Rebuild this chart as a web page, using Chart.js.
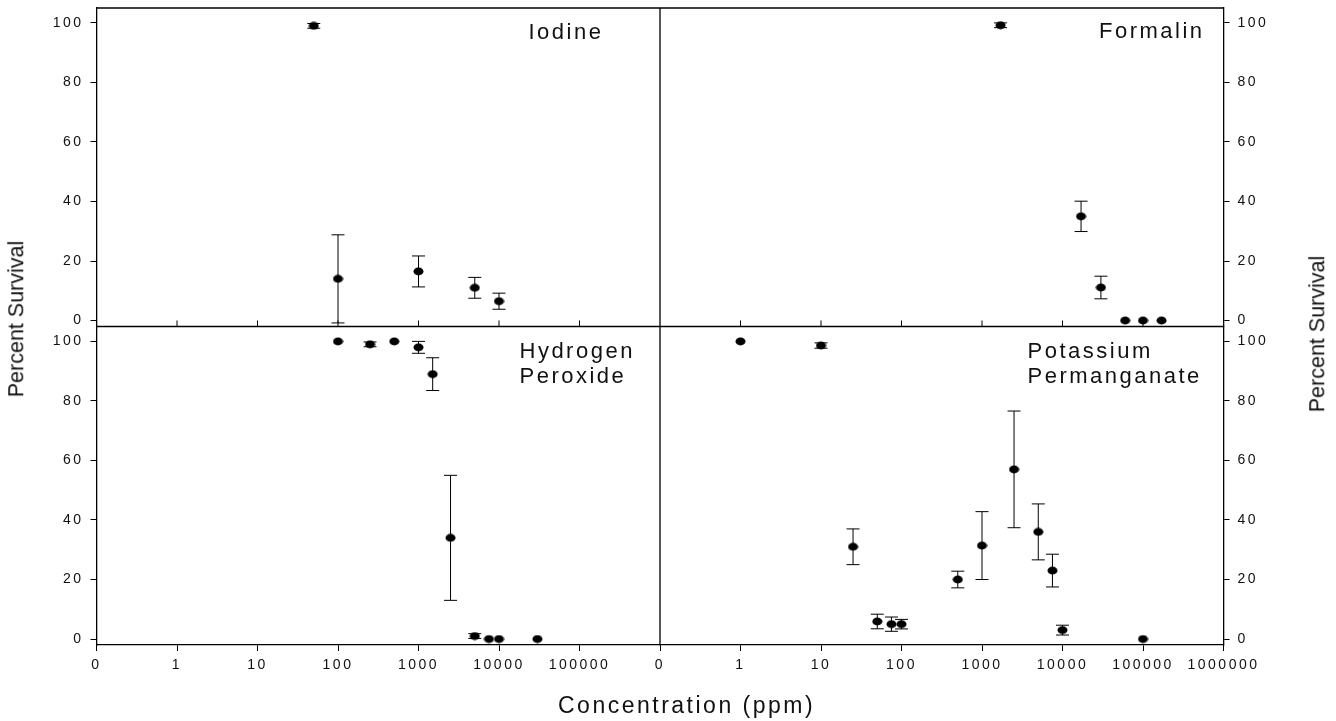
<!DOCTYPE html>
<html><head><meta charset="utf-8">
<script src="https://cdn.jsdelivr.net/npm/chart.js@4.4.1/dist/chart.umd.min.js"></script>
<style>
html,body{margin:0;padding:0;background:#fff;overflow:hidden}
#wrap{position:relative;width:1336px;height:721px;background:#fff}
#c{position:absolute;left:0;top:0}
.t{position:absolute;font-family:"Liberation Sans",Arial,sans-serif;color:#111;white-space:pre;line-height:1;letter-spacing:2.5px}
.r{position:absolute;font-family:"Liberation Sans",Arial,sans-serif;color:#111;white-space:pre;font-size:21.5px;line-height:21.5px;transform:translate(-50%,-50%) rotate(-90deg)}
</style></head><body>
<div id="wrap">
<canvas id="c" width="1336" height="721"></canvas>
<div class="t" style="font-size:22px;left:528.5px;top:20.7px">Iodine</div>
<div class="t" style="font-size:22px;left:1099px;top:20.4px">Formalin</div>
<div class="t" style="font-size:22px;left:519.5px;top:340.4px">Hydrogen</div>
<div class="t" style="font-size:22px;left:519.5px;top:364.7px">Peroxide</div>
<div class="t" style="font-size:22px;left:1027.5px;top:340.1px">Potassium</div>
<div class="t" style="font-size:22px;left:1027.5px;top:364.7px">Permanganate</div>
<div class="t" style="font-size:23px;left:558px;top:694px">Concentration (ppm)</div>
<div class="r" style="left:16.5px;top:319px">Percent Survival</div>
<div class="r" style="left:1318px;top:333.5px">Percent Survival</div>
</div>
<script>
// ---- data ----
const xTickValues = [0.1, 1, 10, 100, 1000, 10000, 100000, 1000000];
const xTickLabelsLeft = ['0', '1', '10', '100', '1000', '10000', '100000', ''];
const xTickLabelsRight = ['0', '1', '10', '100', '1000', '10000', '100000', '1000000'];
const yTickValues = [0, 20, 40, 60, 80, 100];
const yTickLabels = ['0', '20', '40', '60', '80', '100'];

const iodineConc = [50, 100, 1000, 5000, 10000];
const iodineSurv = [99, 14, 16.5, 11, 6.5];
const iodineErr = [0.8, 14.8, 5.2, 3.5, 2.7];

const formalinConc = [1700, 17000, 30000, 60000, 100000, 170000];
const formalinSurv = [99.2, 35, 11.1, 0, 0, 0];
const formalinErr = [0.8, 5.1, 3.8, 0, 0, 0];

const peroxideConc = [100, 250, 500, 1000, 1500, 2500, 5000, 7500, 10000, 30000];
const peroxideSurv = [100, 99, 100, 98, 89, 34, 1, 0, 0, 0];
const peroxideErr = [0, 0.8, 0, 2, 5.5, 21, 0.8, 0, 0, 0];

const permanganateConc = [1, 10, 25, 50, 75, 100, 500, 1000, 2500, 5000, 7500, 10000, 100000];
const permanganateSurv = [100, 98.6, 31, 5.9, 5, 5, 20, 31.4, 57, 36, 23, 3, 0];
const permanganateErr = [0, 0.9, 6, 2.45, 2.4, 1.6, 2.8, 11.4, 19.6, 9.4, 5.5, 1.65, 0];

// ---- marker: slightly wide filled dot ----
const dot = document.createElement('canvas');
dot.width = 11; dot.height = 9;
(function(){ const g = dot.getContext('2d'); g.fillStyle = '#000'; g.beginPath(); g.ellipse(5.5, 4.5, 5, 3.9, 0, 0, Math.PI * 2); g.fill(); })();

const FONT = {family: '"Liberation Sans", Arial, sans-serif', size: 14};

function toPoints(xs, ys) { return xs.map((v, i) => ({x: v, y: ys[i]})); }

function xScale(labels) {
  return {
    type: 'logarithmic', position: 'bottom', stack: 'xs', stackWeight: 1,
    min: 0.1, max: 1000000,
    afterBuildTicks: s => { s.ticks = xTickValues.map(v => ({value: v})); },
    afterFit: s => { s.height = 76; s.paddingLeft = 0; s.paddingRight = 0; s.paddingTop = 0; s.paddingBottom = 0; },
    ticks: {autoSkip: false, maxRotation: 0, minRotation: 0, color: '#111', font: FONT, padding: 6,
      callback: (v, i) => labels[i]},
    grid: {drawOnChartArea: false, drawTicks: true, tickLength: 6, color: '#000', lineWidth: 1},
    border: {display: true, color: '#000', width: 1.3}
  };
}
function yScale(position, stack, pad, width) {
  return {
    type: 'linear', position: position, stack: stack, stackWeight: 1,
    min: -2, max: 105,
    afterBuildTicks: s => { s.ticks = yTickValues.map(v => ({value: v})); },
    afterFit: s => { s.width = width; s.paddingLeft = 0; s.paddingRight = 0; s.paddingTop = 0; s.paddingBottom = 0; },
    ticks: {color: '#111', font: FONT, padding: pad, callback: (v, i) => yTickLabels[i]},
    grid: {drawOnChartArea: false, drawTicks: true, tickLength: 6, color: '#000', lineWidth: 1},
    border: {display: true, color: '#000', width: 1.3}
  };
}

function ds(label, xs, ys, errs, xId, yId) {
  return {label, data: toPoints(xs, ys), errors: errs, xAxisID: xId, yAxisID: yId,
    showLine: false, pointStyle: dot, pointRadius: 5, pointHoverRadius: 5,
    backgroundColor: '#000', borderColor: '#000'};
}

const framePlugin = {
  id: 'frame',
  beforeDraw(chart) { try { chart.ctx.letterSpacing = '2.5px'; } catch (e) {} },
  beforeDatasetsDraw(chart) {
    const ctx = chart.ctx;
    ctx.save();
    ctx.strokeStyle = '#000'; ctx.lineWidth = 1;
    chart.data.datasets.forEach((d, di) => {
      const meta = chart.getDatasetMeta(di);
      const ys = chart.scales[d.yAxisID];
      meta.data.forEach((pt, i) => {
        const e = d.errors[i];
        if (!e) return;
        const v = d.data[i].y;
        const top = ys.getPixelForValue(v + e), bot = ys.getPixelForValue(v - e);
        const x = pt.x;
        ctx.beginPath();
        ctx.moveTo(x, top); ctx.lineTo(x, bot);
        ctx.moveTo(x - 6.5, top); ctx.lineTo(x + 6.5, top);
        ctx.moveTo(x - 6.5, bot); ctx.lineTo(x + 6.5, bot);
        ctx.stroke();
      });
    });
    ctx.restore();
  },
  afterDraw(chart) {
    const ctx = chart.ctx, a = chart.chartArea;
    const xL = chart.scales.xL, xR = chart.scales.xR, yT = chart.scales.yT;
    ctx.save();
    ctx.strokeStyle = '#000'; ctx.lineWidth = 1.3;
    ctx.beginPath();
    ctx.moveTo(a.left, a.top); ctx.lineTo(a.right, a.top);
    ctx.moveTo(a.left, yT.bottom); ctx.lineTo(a.right, yT.bottom);
    ctx.moveTo(xL.right, a.top); ctx.lineTo(xL.right, a.bottom);
    ctx.stroke();
    ctx.lineWidth = 1;
    ctx.beginPath();
    xTickValues.slice(1, -1).forEach(v => {
      [xL, xR].forEach(s => {
        const px = s.getPixelForValue(v);
        ctx.moveTo(px, yT.bottom); ctx.lineTo(px, yT.bottom - 6);
      });
    });
    ctx.stroke();
    ctx.restore();
  }
};

new Chart(document.getElementById('c'), {
  type: 'scatter',
  data: {datasets: [
    ds('Iodine', iodineConc, iodineSurv, iodineErr, 'xL', 'yT'),
    ds('Formalin', formalinConc, formalinSurv, formalinErr, 'xR', 'yT'),
    ds('Hydrogen Peroxide', peroxideConc, peroxideSurv, peroxideErr, 'xL', 'yB'),
    ds('Potassium Permanganate', permanganateConc, permanganateSurv, permanganateErr, 'xR', 'yB')
  ]},
  options: {
    responsive: false, animation: false, devicePixelRatio: 1,
    layout: {padding: {top: 8, left: 0, right: 0, bottom: 0}},
    plugins: {legend: {display: false}, tooltip: {enabled: false}, title: {display: false}},
    scales: {
      xL: xScale(xTickLabelsLeft),
      xR: xScale(xTickLabelsRight),
      yB: yScale('left', 'yl', 7, 96.5),
      yT: yScale('left', 'yl', 7, 96.5),
      yTR: yScale('right', 'yr', 8, 112.5),
      yBR: yScale('right', 'yr', 8, 112.5)
    }
  },
  plugins: [framePlugin]
});
</script>
</body></html>
